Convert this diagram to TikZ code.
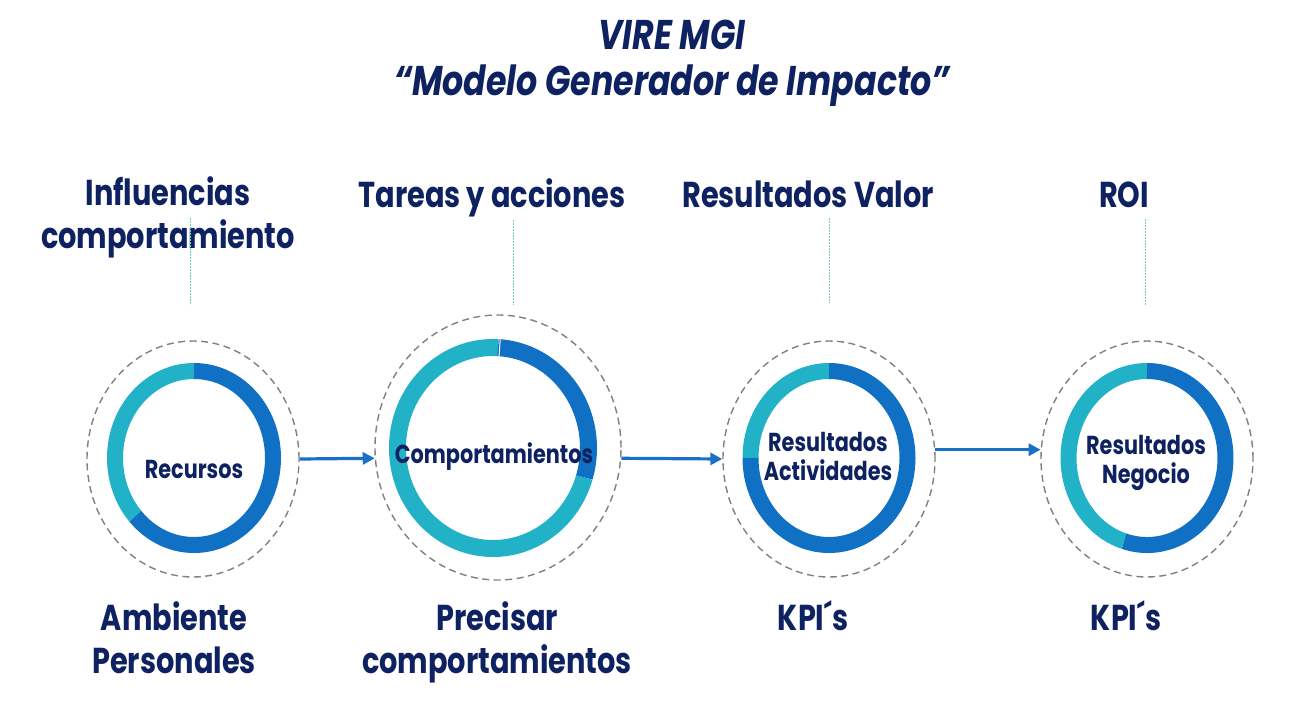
\documentclass[tikz,border=0pt]{standalone}
\usepackage{fontspec}
\setmainfont{Poppins}[FakeStretch=0.80]
\usepackage{tikz}
\usetikzlibrary{arrows.meta, shapes.geometric}

\definecolor{navy}{RGB}{14,33,96}
\definecolor{ringblue}{RGB}{16,112,196}
\definecolor{ringteal}{RGB}{34,178,200}
\definecolor{dashgray}{RGB}{128,128,128}
\definecolor{guidegreen}{RGB}{110,210,180}
\definecolor{arrowblue}{RGB}{26,111,200}

\begin{document}
\begin{tikzpicture}[x=1pt, y=-1pt,
        title/.style = {font=\fontsize{41.5}{46}\selectfont\bfseries\itshape, text=navy, align=center, anchor=base, inner sep=0pt},
        head/.style = {font=\fontsize{36}{43}\selectfont\bfseries, text=navy, align=center, anchor=base, inner sep=0pt},
        label/.style = {font=\fontsize{26}{29}\selectfont\bfseries, text=navy, align=center, anchor=base, inner sep=0pt},
        halo/.style = {draw=dashgray, ellipse, line width=1.4pt, dash pattern=on 7pt off 4.5pt, inner sep=0pt, minimum width=212pt, minimum height=236pt},
        ring/.style = {line width=16pt},
        flow/.style = {-{Triangle[length=12pt,width=12pt]}, arrowblue, line width=3.2pt},
        guide/.style = {guidegreen, line width=0.9pt, dash pattern=on 2pt off 1pt}]

        \useasboundingbox (0,0) rectangle (1292,701);

        \node[title] (ttl) at (672,95) {VIRE MGI\\“Modelo Generador de Impacto”};

        % dashed halos
        \node[halo] (o1) at (193,459) {};
        \node[halo, minimum width=246pt, minimum height=265pt] (o2) at (498,447.5) {};
        \node[halo] (o3) at (829,459) {};
        \node[halo] (o4) at (1147,459) {};

        % ring centres
        \coordinate (c1) at (194,458);
        \coordinate (c2) at (493,448);
        \coordinate (c3) at (829,458);
        \coordinate (c4) at (1147,458);

        \draw[ring, ringteal] (c1) ++(90:79pt and 87pt) arc[start angle=90, end angle=222, x radius=79pt, y radius=87pt];
        \draw[ring, ringblue] (c1) ++(90:79pt and 87pt) arc[start angle=90, end angle=-138, x radius=79pt, y radius=87pt];

        \draw[ring, line width=17pt, ringteal] (c2) ++(87:95.5pt and 100.5pt) arc[start angle=87, end angle=343, x radius=95.5pt, y radius=100.5pt];
        \draw[ring, line width=17pt, ringblue] (c2) ++(87:95.5pt and 100.5pt) arc[start angle=87, end angle=-17, x radius=95.5pt, y radius=100.5pt];
        \draw[white, line width=1pt] (c2) ++(86:87pt and 92pt) -- ++(86:17pt);

        \draw[ring, ringteal] (c3) ++(90:78.5pt and 87pt) arc[start angle=90, end angle=180, x radius=78.5pt, y radius=87pt];
        \draw[ring, ringblue] (c3) ++(180:78.5pt and 87pt) arc[start angle=180, end angle=450, x radius=78.5pt, y radius=87pt];

        \draw[ring, ringteal] (c4) ++(90:78.5pt and 87pt) arc[start angle=90, end angle=253, x radius=78.5pt, y radius=87pt];
        \draw[ring, ringblue] (c4) ++(253:78.5pt and 87pt) arc[start angle=253, end angle=450, x radius=78.5pt, y radius=87pt];

        \node[label] (rec) at (194,478) {Recursos};
        \node[label] (com) at (494,463) {Comportamientos};
        \node[label] (act) at (828,480) {Resultados\\Actividades};
        \node[label] (neg) at (1146,483) {Resultados\\Negocio};

        \draw[flow] (o1.east) -- (o2.185);
        \draw[flow] (o2.-5) -- (o3.west);
        \draw[flow] (o3.5) -- (o4.175);

        \node[head] (h1) at (168,248) {Influencias\\comportamiento};
        \node[head] (h2) at (492,207) {Tareas y acciones};
        \node[head] (h3) at (808,207) {Resultados Valor};
        \node[head] (h4) at (1124,207) {ROI};

        \draw[guide] (190,218) -- (190,305);
        \draw[guide] (513,220) -- (513,305);
        \draw[guide] (829,218) -- (829,303);
        \draw[guide] (1145,219) -- (1145,305);

        \node[head] (b1) at (174,673) {Ambiente\\Personales};
        \node[head] (b2) at (497,673) {Precisar\\comportamientos};
        \node[head] (b3) at (813,630) {KPI´s};
        \node[head] (b4) at (1126,630) {KPI´s};
\end{tikzpicture}
\end{document}
